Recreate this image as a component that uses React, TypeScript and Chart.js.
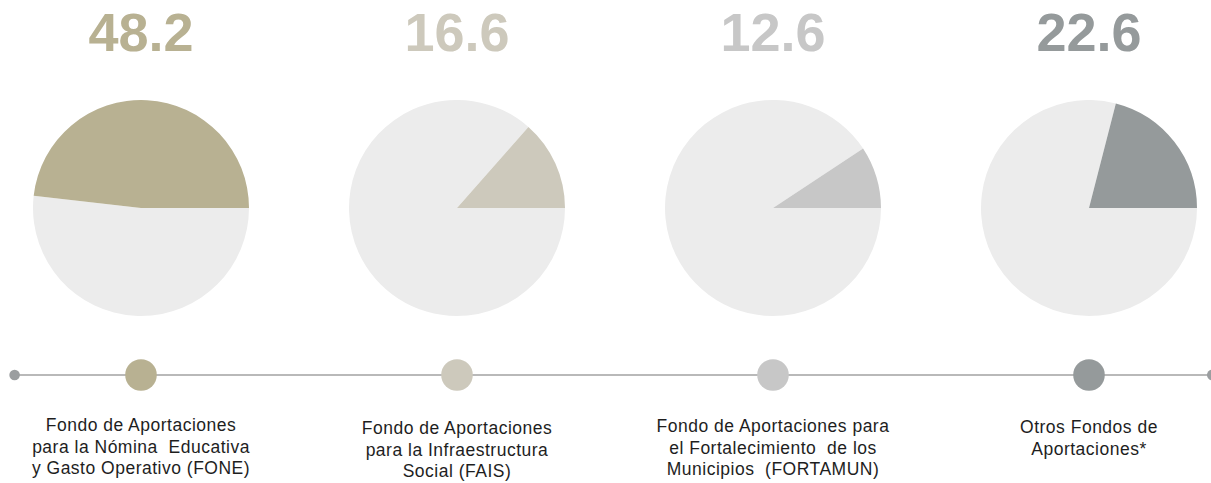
import React, { useEffect, useRef } from "react";
import { Chart, registerables } from "chart.js";

Chart.register(...registerables);

// ---- data ----
const categories = ["FONE", "FAIS", "FORTAMUN", "Otros"];
const headlineLabels = ["48.2", "16.6", "12.6", "22.6"];
const sliceShares = [48.2, 13.5, 9.3, 21.0];
const labelLines = [
  ["Fondo de Aportaciones", "para la Nómina  Educativa", "y Gasto Operativo (FONE)"],
  ["Fondo de Aportaciones", "para la Infraestructura", "Social (FAIS)"],
  ["Fondo de Aportaciones para", "el Fortalecimiento  de los", "Municipios  (FORTAMUN)"],
  ["Otros Fondos de", "Aportaciones*"],
];
const seriesColors = ["#b8b192", "#cdc9bc", "#c7c7c7", "#959a9b"];
const restColor = "#ececec";

// ---- layout ----
const W = 1211;
const H = 483;
const COL_W = 316;
const FIRST_CX = 141;
const PIE_SIZE = 216;
const PIE_TOP = 100;
const TL_TOP = 355;
const TL_H = 40;
const labelTops = [415, 418, 416, 417];

function Pie({ idx }: { idx: number }) {
  const ref = useRef<HTMLCanvasElement | null>(null);
  useEffect(() => {
    if (!ref.current) return;
    const v = sliceShares[idx];
    const chart = new Chart(ref.current, {
      type: "pie",
      data: {
        labels: ["Resto", categories[idx]],
        datasets: [
          {
            data: [100 - v, v],
            backgroundColor: [restColor, seriesColors[idx]],
            borderWidth: 0,
            hoverOffset: 0,
          },
        ],
      },
      options: {
        responsive: false,
        animation: false,
        rotation: 90,
        layout: { padding: 0 },
        plugins: { legend: { display: false }, tooltip: { enabled: false } },
      },
    });
    return () => chart.destroy();
  }, [idx]);
  const cx = FIRST_CX + COL_W * idx;
  return (
    <canvas
      ref={ref}
      width={PIE_SIZE}
      height={PIE_SIZE}
      style={{ position: "absolute", left: cx - PIE_SIZE / 2, top: PIE_TOP, width: PIE_SIZE, height: PIE_SIZE }}
    />
  );
}

function Timeline() {
  const ref = useRef<HTMLCanvasElement | null>(null);
  useEffect(() => {
    if (!ref.current) return;
    const xmin = -FIRST_CX / COL_W;
    const xmax = (W - FIRST_CX) / COL_W;
    const chart = new Chart(ref.current, {
      type: "scatter",
      data: {
        datasets: [
          {
            type: "scatter",
            data: categories.map((_, i) => ({ x: i, y: 0 })),
            backgroundColor: seriesColors,
            pointRadius: 15.8,
            pointHoverRadius: 15.8,
            borderWidth: 0,
            clip: false,
            order: 1,
          } as any,
          {
            type: "scatter",
            data: [
              { x: -0.4, y: 0 },
              { x: 3.39, y: 0 },
            ],
            backgroundColor: "#9b9ea0",
            pointRadius: 5.3,
            pointHoverRadius: 5.3,
            borderWidth: 0,
            clip: false,
            order: 2,
          } as any,
          {
            type: "line",
            data: [
              { x: -0.4, y: 0 },
              { x: 3.39, y: 0 },
            ],
            borderColor: "#b9b9b9",
            borderWidth: 2,
            pointRadius: 0,
            showLine: true,
            clip: false,
            order: 3,
          } as any,
        ],
      },
      options: {
        responsive: false,
        animation: false,
        layout: { padding: 0, autoPadding: false },
        scales: {
          x: { type: "linear", min: xmin, max: xmax, display: false },
          y: { min: -1, max: 1, display: false },
        },
        plugins: { legend: { display: false }, tooltip: { enabled: false } },
      },
    });
    return () => chart.destroy();
  }, []);
  return (
    <canvas
      ref={ref}
      width={W}
      height={TL_H}
      style={{ position: "absolute", left: 0, top: TL_TOP, width: W, height: TL_H }}
    />
  );
}

export default function App() {
  return (
    <div
      style={{
        position: "fixed",
        left: 0,
        top: 0,
        width: W,
        height: H,
        overflow: "hidden",
        background: "#ffffff",
      }}
    >
      {categories.map((c, i) => (
        <div
          key={"n" + c}
          style={{
            position: "absolute",
            left: FIRST_CX + COL_W * i - COL_W / 2,
            top: 5,
            width: COL_W,
            textAlign: "center",
            fontFamily: "'Liberation Sans', Arial, sans-serif",
            fontWeight: 700,
            fontSize: 54,
            lineHeight: "54px",
            color: seriesColors[i],
          }}
        >
          {headlineLabels[i]}
        </div>
      ))}
      {categories.map((c, i) => (
        <Pie key={"p" + c} idx={i} />
      ))}
      <Timeline />
      {categories.map((c, i) => (
        <div
          key={"l" + c}
          style={{
            position: "absolute",
            left: FIRST_CX + COL_W * i - COL_W / 2,
            top: labelTops[i],
            width: COL_W,
            textAlign: "center",
            fontFamily: "'Liberation Sans', Arial, sans-serif",
            fontSize: 17.5,
            letterSpacing: 0.5,
            lineHeight: "21.5px",
            color: "#1e1e1e",
            whiteSpace: "pre",
          }}
        >
          {labelLines[i].join("\n")}
        </div>
      ))}
    </div>
  );
}
